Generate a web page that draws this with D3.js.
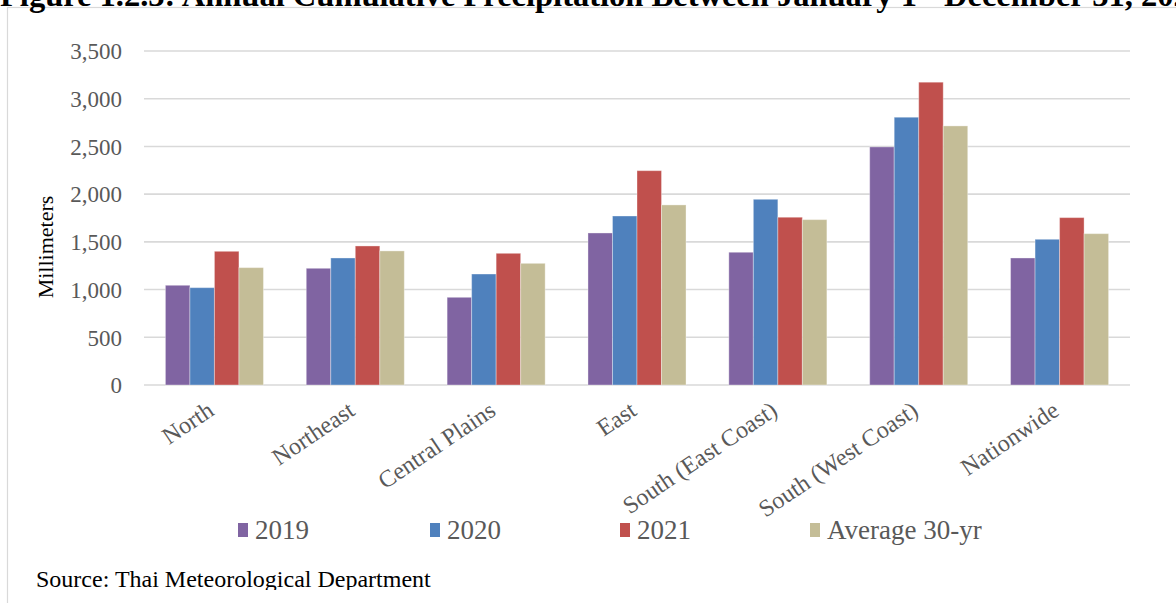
<!DOCTYPE html>
<html>
<head>
<meta charset="utf-8">
<script src="https://cdn.jsdelivr.net/npm/d3@7"></script>
<style>
  html, body { margin: 0; padding: 0; background: #fff; }
  svg { display: block; }
  text { font-family: "Liberation Serif", "Times New Roman", serif; }
</style>
</head>
<body>
<script>
// Regions and yearly precipitation totals (mm)
const regions = ["North", "Northeast", "Central Plains", "East",
  "South (East Coast)", "South (West Coast)", "Nationwide"];
const seriesNames = ["2019", "2020", "2021", "Average 30-yr"];
const values2019 = [1045, 1223, 919, 1593, 1391, 2495, 1331];
const values2020 = [1020, 1331, 1163, 1771, 1946, 2806, 1527];
const values2021 = [1401, 1457, 1380, 2246, 1758, 3173, 1754];
const valuesAvg  = [1230, 1405, 1275, 1887, 1733, 2715, 1586];
const seriesColors = ["#8064A2", "#4F81BD", "#C0504D", "#C4BD97"];
const yTicks = [0, 500, 1000, 1500, 2000, 2500, 3000, 3500];

const titleText = "Figure 1.2.3: Annual Cumulative Precipitation Between January 1 - December 31, 2021";
const sourceText = "Source: Thai Meteorological Department";

const W = 1176, H = 603;
const svg = d3.select("body").append("svg").attr("width", W).attr("height", H);

// Outer frame of the chart area
svg.append("rect")
  .attr("x", 7.5).attr("y", 7.5)
  .attr("width", W + 20).attr("height", H + 20)
  .attr("fill", "none").attr("stroke", "#D9D9D9").attr("stroke-width", 1.2);

// Figure caption above the frame
svg.append("text")
  .attr("x", 0).attr("y", 6)
  .attr("font-size", 32.5).attr("font-weight", "bold").attr("fill", "#000")
  .text(titleText);

const x0 = d3.scaleBand().domain(regions).range([144, 1130]).padding(0);
const groupW = x0.bandwidth() * 0.696;
const x1 = d3.scaleBand().domain(seriesNames).range([0, groupW]).padding(0);
const y = d3.scaleLinear().domain([0, 3500]).range([385, 51]);

// Horizontal gridlines
svg.append("g").selectAll("line").data(yTicks).join("line")
  .attr("x1", 144).attr("x2", 1130)
  .attr("y1", d => y(d)).attr("y2", d => y(d))
  .attr("stroke", "#D9D9D9").attr("stroke-width", 1.6);

// Y axis labels
const yAxis = d3.axisLeft(y).tickValues(yTicks).tickSize(0).tickPadding(0)
  .tickFormat(d3.format(","));
const yg = svg.append("g").attr("transform", "translate(122,0)").call(yAxis);
yg.select(".domain").remove();
yg.selectAll("text")
  .attr("font-family", "Liberation Serif, serif")
  .attr("font-size", 23).attr("fill", "#595959").attr("dy", "0.34em");

svg.append("text")
  .attr("transform", "translate(53,247) rotate(-90)")
  .attr("text-anchor", "middle")
  .attr("font-size", 22).attr("fill", "#000")
  .text("Millimeters");

// Bars
const table = regions.map((r, i) => ({
  region: r,
  vals: [values2019[i], values2020[i], values2021[i], valuesAvg[i]]
}));
const offset = (x0.bandwidth() - groupW) / 2;
const groups = svg.append("g").selectAll("g").data(table).join("g")
  .attr("transform", d => `translate(${x0(d.region) + offset},0)`);
groups.selectAll("rect")
  .data(d => d.vals.map((v, k) => ({ key: seriesNames[k], v, k })))
  .join("rect")
  .attr("x", d => x1(d.key))
  .attr("width", x1.bandwidth())
  .attr("y", d => y(d.v))
  .attr("height", d => y(0) - y(d.v))
  .attr("fill", d => seriesColors[d.k])
  .attr("stroke", "#fff").attr("stroke-opacity", 0.35).attr("stroke-width", 1);

// Category labels, slanted
const xAxis = d3.axisBottom(x0).tickSize(0).tickPadding(0);
const xg = svg.append("g").call(xAxis);
xg.select(".domain").remove();
xg.selectAll(".tick").attr("transform", d => `translate(${x0(d) + x0.bandwidth() / 2 + 1},414)`);
xg.selectAll("text")
  .attr("font-family", "Liberation Serif, serif")
  .attr("font-size", 24).attr("fill", "#595959")
  .attr("y", 0).attr("dy", 0)
  .attr("text-anchor", "end")
  .attr("transform", "rotate(-34)");

// Legend
const legendX = [238, 430, 620, 810];
const lg = svg.append("g").selectAll("g").data(seriesNames).join("g")
  .attr("transform", (d, i) => `translate(${legendX[i]},0)`);
lg.append("rect").attr("x", 0).attr("y", 523).attr("width", 10).attr("height", 14)
  .attr("fill", (d, i) => seriesColors[i]);
lg.append("text").attr("x", 17).attr("y", 539)
  .attr("font-size", 27).attr("fill", "#595959")
  .text(d => d);

// Source note, cut off at the bottom of the frame
svg.append("clipPath").attr("id", "srcClip")
  .append("rect").attr("x", 0).attr("y", 0).attr("width", W).attr("height", 590);
svg.append("text")
  .attr("clip-path", "url(#srcClip)")
  .attr("x", 36).attr("y", 587)
  .attr("font-size", 24).attr("fill", "#000")
  .text(sourceText);
</script>
</body>
</html>
